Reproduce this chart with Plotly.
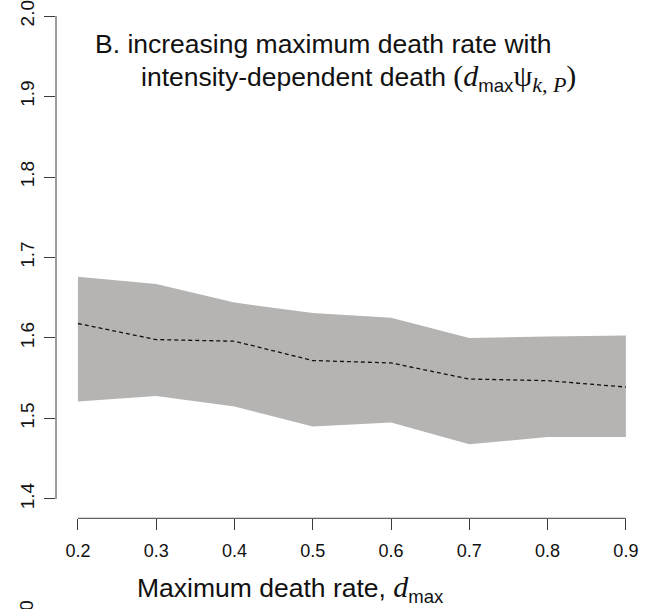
import plotly.graph_objects as go

# Maximum death rate values on the x axis
d_max = [0.2, 0.3, 0.4, 0.5, 0.6, 0.7, 0.8, 0.9]
# Interval bounds and mean of the response
upper = [1.676, 1.667, 1.644, 1.631, 1.625, 1.600, 1.602, 1.603]
lower = [1.521, 1.528, 1.515, 1.490, 1.495, 1.468, 1.477, 1.477]
mean = [1.618, 1.598, 1.596, 1.572, 1.569, 1.549, 1.547, 1.539]

x_ticks = [0.2, 0.3, 0.4, 0.5, 0.6, 0.7, 0.8, 0.9]
x_ticktext = ["0.2", "0.3", "0.4", "0.5", "0.6", "0.7", "0.8", "0.9"]
y_ticks = [1.4, 1.5, 1.6, 1.7, 1.8, 1.9, 2.0]
y_ticktext = ["1.4", "1.5", "1.6", "1.7", "1.8", "1.9", "2.0"]

W, H = 657, 609
SANS = "Liberation Sans, Arial, sans-serif"
AXIS_COL = "#3a3a3a"


def px(x):
    return x / W


def py(y):
    return 1 - y / H


fig = go.Figure()

# shaded interval
fig.add_trace(go.Scatter(
    x=d_max + d_max[::-1],
    y=upper + lower[::-1],
    fill="toself",
    fillcolor="#b5b4b3",
    line=dict(width=0),
    mode="lines",
    hoverinfo="skip",
    showlegend=False,
))

# dashed mean line
fig.add_trace(go.Scatter(
    x=d_max,
    y=mean,
    mode="lines",
    line=dict(color="#111111", width=1.3, dash="4px,3px"),
    showlegend=False,
))

# R-style axis lines spanning only the tick range
fig.add_shape(type="line", xref="x", yref="y domain",
              x0=x_ticks[0], x1=x_ticks[-1], y0=0, y1=0,
              line=dict(color=AXIS_COL, width=1))
fig.add_shape(type="line", xref="x domain", yref="y",
              x0=0, x1=0, y0=y_ticks[0], y1=y_ticks[-1],
              line=dict(color=AXIS_COL, width=1))

tick_font = dict(family=SANS, size=18, color="#111111")

fig.update_xaxes(
    range=[0.172, 0.928],
    domain=[px(56), px(647.8)],
    tickvals=x_ticks, ticktext=x_ticktext,
    ticks="outside", ticklen=11, tickwidth=1, tickcolor=AXIS_COL,
    tickfont=tick_font, ticklabelstandoff=5,
    showline=False, showgrid=False, zeroline=False,
)
fig.update_yaxes(
    range=[1.376, 2.0199],
    domain=[py(518.3), 1],
    tickvals=y_ticks, ticktext=y_ticktext,
    ticks="outside", ticklen=11, tickwidth=1, tickcolor=AXIS_COL,
    tickfont=dict(family=SANS, size=19, color="#111111"),
    tickangle=-90, ticklabelstandoff=2, ticklabeloverflow="allow",
    showline=False, showgrid=False, zeroline=False,
)

title_font = dict(family=SANS, size=26.5, color="#111111")
serif_open = '<span style="font-family:Liberation Serif, Times New Roman, serif;font-size:30px">'
serif_sub = '<span style="font-family:Liberation Serif, Times New Roman, serif;font-size:22px">'

annotations = [
    dict(text="B. increasing maximum death rate with",
         x=px(93), y=py(44), xanchor="left", yanchor="middle"),
    dict(text=("intensity-dependent death " + serif_open + "(<i>d</i></span>"
               "<sub>max</sub>" + serif_open + "ψ</span>"
               "<sub>" + serif_sub + "<i>k, P</i></span></sub>"
               + serif_open + ")</span>"),
         x=px(139), y=py(78), xanchor="left", yanchor="middle"),
    dict(text="Maximum death rate, " + serif_open + "<i>d</i></span><sub>max</sub>",
         x=px(135), y=py(588), xanchor="left", yanchor="middle"),
]
for a in annotations:
    a.update(xref="paper", yref="paper", showarrow=False, font=title_font)
    fig.add_annotation(**a)

# tick label of the panel below, cut off at the bottom edge
fig.add_annotation(text="2.0", x=px(25.5), y=py(599), xref="paper", yref="paper",
                   xanchor="center", yanchor="top", textangle=-90,
                   showarrow=False, font=dict(family=SANS, size=19, color="#111111"))

fig.update_layout(
    width=W, height=H,
    margin=dict(l=0, r=0, t=0, b=0),
    paper_bgcolor="white", plot_bgcolor="white",
    showlegend=False,
)

fig.write_html("out.html")
